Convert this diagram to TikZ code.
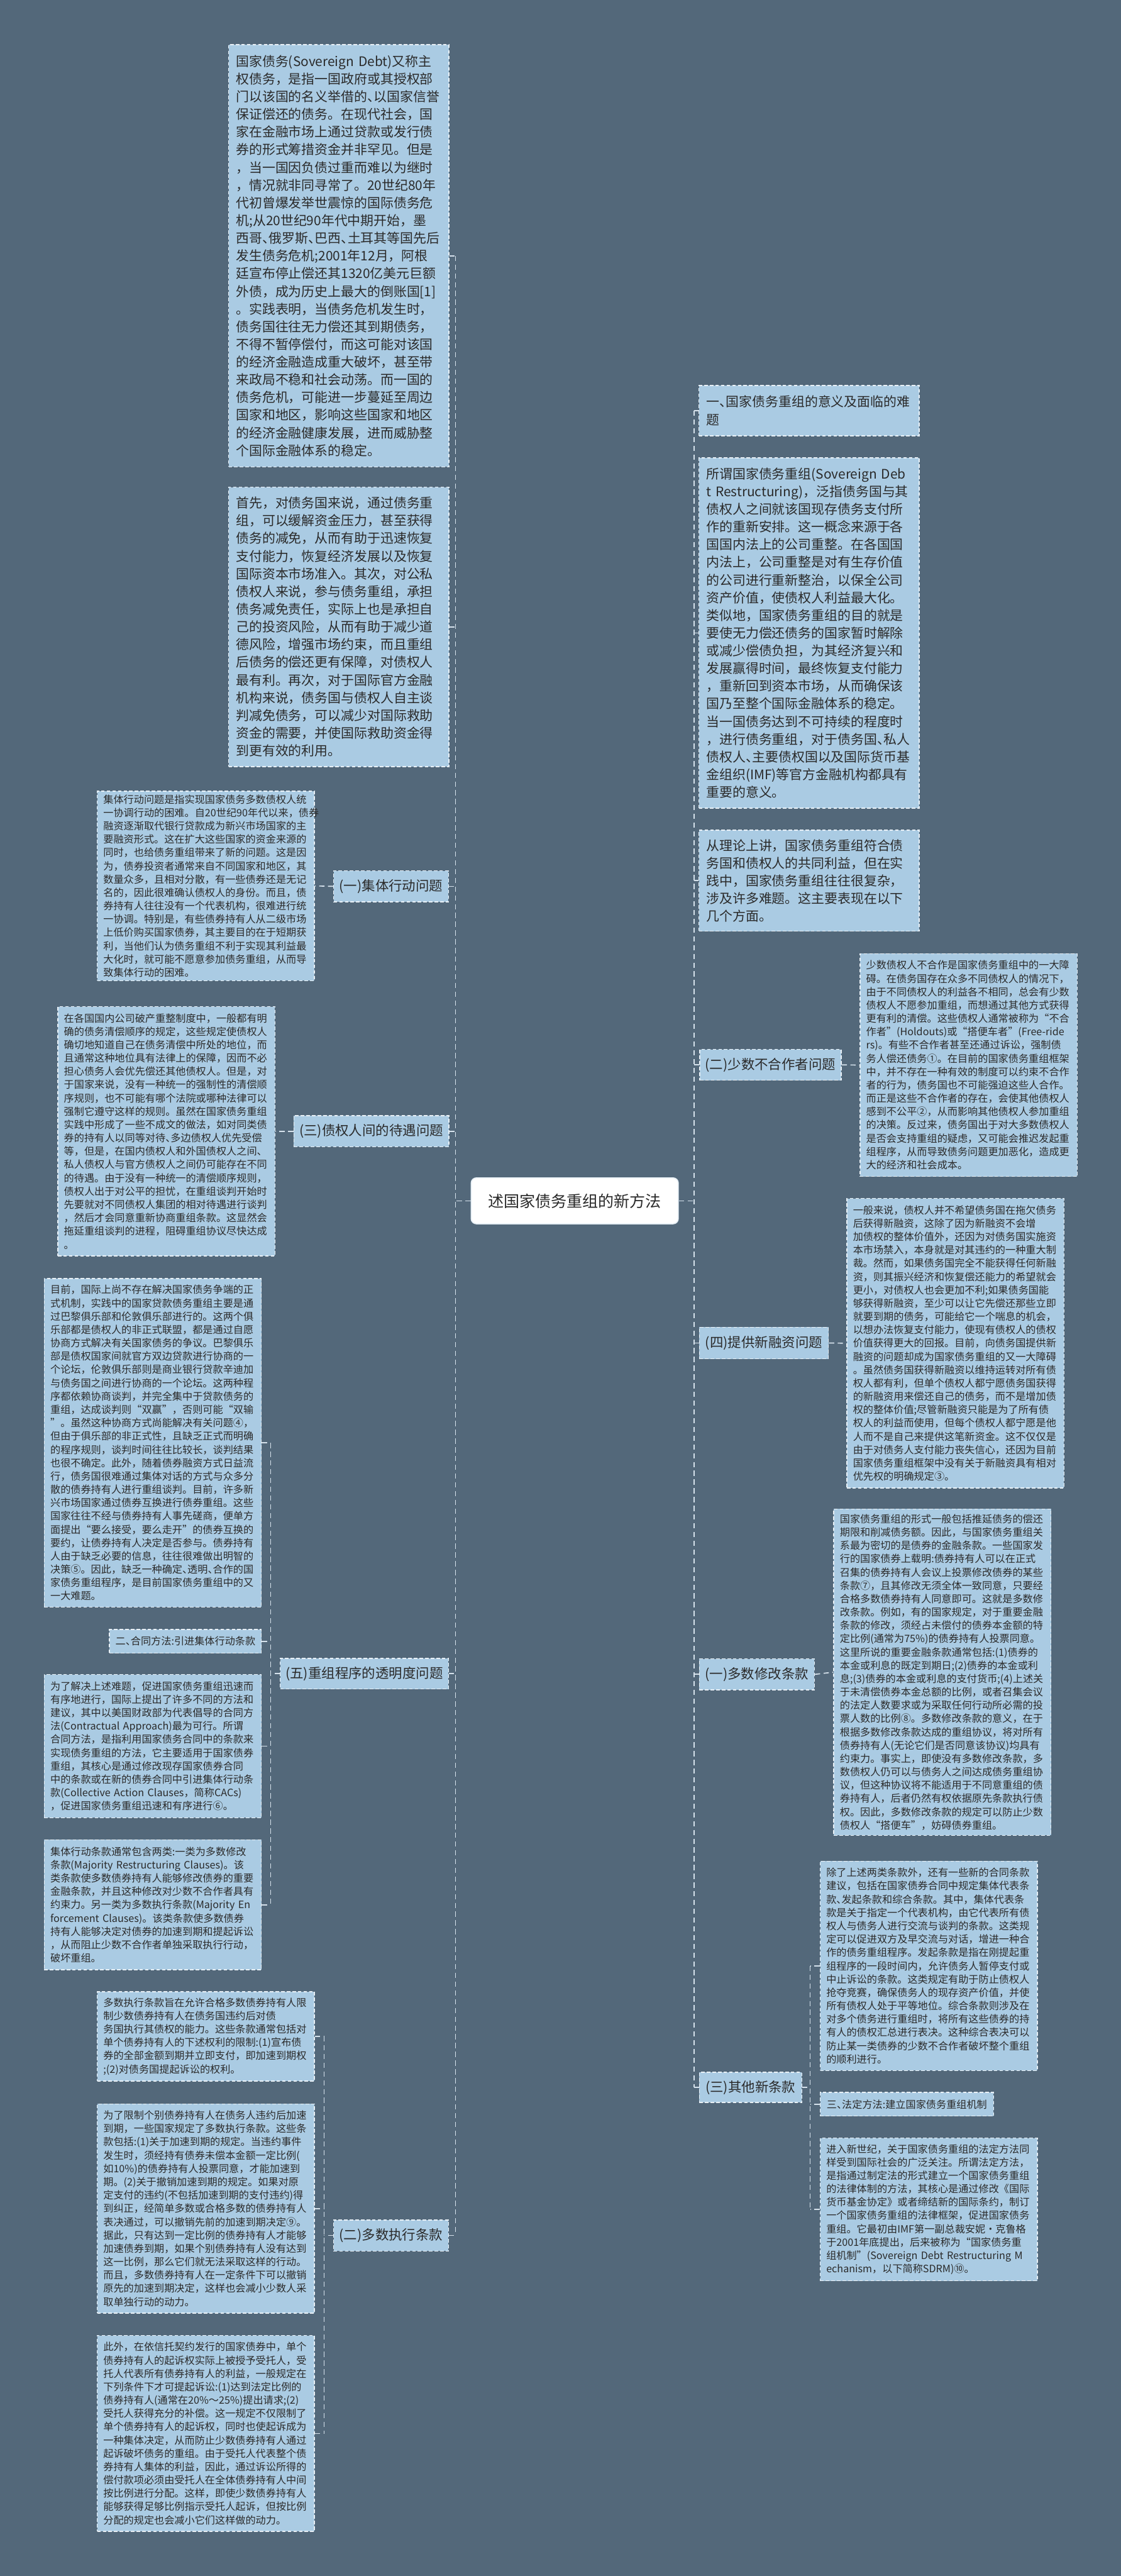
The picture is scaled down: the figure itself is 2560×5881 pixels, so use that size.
\documentclass[tikz,border=0pt]{standalone}
\usepackage{fontspec}
\setmainfont{Noto Sans CJK SC}
\definecolor{bgc}{HTML}{53687A}
\definecolor{boxfill}{HTML}{AACBE3}
\definecolor{boxline}{HTML}{E8F0F6}
\definecolor{txt}{HTML}{2A2A2A}
\definecolor{connc}{HTML}{D6E2EC}
\newcommand\dun{\makebox[0.5em][l]{、}}
\begin{document}
\begin{tikzpicture}[x=0.25pt,y=-0.25pt,
  box/.style={draw=boxline, fill=boxfill, dash pattern=on 2pt off 1.2pt, line width=0.5pt, text=txt, align=left, anchor=north west, inner ysep=0pt},
  bigbox/.style={box, inner xsep=4.25pt, text width=117.25pt, font=\fontsize{7.5pt}{10.1pt}\selectfont},
  smallbox/.style={box, inner xsep=3.5pt, text width=117pt, font=\fontsize{5.8pt}{7.6pt}\selectfont},
  lab/.style={draw=boxline, fill=boxfill, dash pattern=on 2pt off 1.2pt, line width=0.5pt, text=txt, align=center, anchor=north west, inner sep=0pt, font=\fontsize{7.7pt}{9pt}\selectfont},
  slab/.style={lab, font=\fontsize{5.8pt}{7pt}\selectfont},
  rootbox/.style={draw=boxline, fill=white, rounded corners=3pt, line width=0.6pt, text=txt, align=center, inner sep=0pt, font=\fontsize{9pt}{10pt}\selectfont},
  conn/.style={draw=connc, dash pattern=on 3pt off 2pt, line width=0.6pt}
]
\fill[bgc] (0,0) rectangle (2560,5881);
\useasboundingbox (0,0) rectangle (2560,5881);

% root
\node[rootbox, minimum width=118.25pt, minimum height=26.25pt] (root) at (1312.5,2741.5) {述国家债务重组的新方法};

% ---------------- left side ----------------
\node[bigbox, minimum height=241pt] (A) at (521,101) {国家债务(Sovereign~Debt)又称主\\
权债务，是指一国政府或其授权部\\
门以该国的名义举借的\dun 以国家信誉\\
保证偿还的债务。在现代社会，国\\
家在金融市场上通过贷款或发行债\\
券的形式筹措资金并非罕见。但是\\
，当一国因负债过重而难以为继时\\
，情况就非同寻常了。20世纪80年\\
代初曾爆发举世震惊的国际债务危\\
机;从20世纪90年代中期开始，墨\\
西哥\dun 俄罗斯\dun 巴西\dun 土耳其等国先后\\
发生债务危机;2001年12月，阿根\\
廷宣布停止偿还其1320亿美元巨额\\
外债，成为历史上最大的倒账国[1]\\
。实践表明，当债务危机发生时，\\
债务国往往无力偿还其到期债务，\\
不得不暂停偿付，而这可能对该国\\
的经济金融造成重大破坏，甚至带\\
来政局不稳和社会动荡。而一国的\\
债务危机，可能进一步蔓延至周边\\
国家和地区，影响这些国家和地区\\
的经济金融健康发展，进而威胁整\\
个国际金融体系的稳定。};

\node[bigbox, minimum height=159.5pt] (B) at (521,1111) {首先，对债务国来说，通过债务重\\
组，可以缓解资金压力，甚至获得\\
债务的减免，从而有助于迅速恢复\\
支付能力，恢复经济发展以及恢复\\
国际资本市场准入。其次，对公私\\
债权人来说，参与债务重组，承担\\
债务减免责任，实际上也是承担自\\
己的投资风险，从而有助于减少道\\
德风险，增强市场约束，而且重组\\
后债务的偿还更有保障，对债权人\\
最有利。再次，对于国际官方金融\\
机构来说，债务国与债权人自主谈\\
判减免债务，可以减少对国际救助\\
资金的需要，并使国际救助资金得\\
到更有效的利用。};

\node[lab, minimum width=65.5pt, minimum height=17.75pt] (L1c) at (761,1987) {(一)集体行动问题};
\node[smallbox, minimum height=108.25pt] (C) at (221,1805) {集体行动问题是指实现国家债务多数债权人统\\
一协调行动的困难。自20世纪90年代以来，债券\\
融资逐渐取代银行贷款成为新兴市场国家的主\\
要融资形式。这在扩大这些国家的资金来源的\\
同时，也给债务重组带来了新的问题。这是因\\
为，债券投资者通常来自不同国家和地区，其\\
数量众多，且相对分散，有一些债券还是无记\\
名的，因此很难确认债权人的身份。而且，债\\
券持有人往往没有一个代表机构，很难进行统\\
一协调。特别是，有些债券持有人从二级市场\\
上低价购买国家债券，其主要目的在于短期获\\
利，当他们认为债务重组不利于实现其利益最\\
大化时，就可能不愿意参加债务重组，从而导\\
致集体行动的困难。};

\node[lab, minimum width=88.5pt, minimum height=17.75pt] (LD) at (670,2546) {(三)债权人间的待遇问题};
\node[smallbox, minimum height=142.25pt] (D) at (131,2297) {在各国国内公司破产重整制度中，一般都有明\\
确的债务清偿顺序的规定，这些规定使债权人\\
确切地知道自己在债务清偿中所处的地位，而\\
且通常这种地位具有法律上的保障，因而不必\\
担心债务人会优先偿还其他债权人。但是，对\\
于国家来说，没有一种统一的强制性的清偿顺\\
序规则，也不可能有哪个法院或哪种法律可以\\
强制它遵守这样的规则。虽然在国家债务重组\\
实践中形成了一些不成文的做法，如对同类债\\
券的持有人以同等对待\dun 多边债权人优先受偿\\
等，但是，在国内债权人和外国债权人之间\dun\\
私人债权人与官方债权人之间仍可能存在不同\\
的待遇。由于没有一种统一的清偿顺序规则，\\
债权人出于对公平的担忧，在重组谈判开始时\\
先要就对不同债权人集团的相对待遇进行谈判\\
，然后才会同意重新协商重组条款。这显然会\\
拖延重组谈判的进程，阻碍重组协议尽快达成\\
。};

\node[lab, minimum width=96pt, minimum height=17.5pt] (L5) at (639,3785) {(五)重组程序的透明度问题};
\node[smallbox, minimum height=187.5pt] (E) at (100,2918) {目前，国际上尚不存在解决国家债务争端的正\\
式机制，实践中的国家贷款债务重组主要是通\\
过巴黎俱乐部和伦敦俱乐部进行的。这两个俱\\
乐部都是债权人的非正式联盟，都是通过自愿\\
协商方式解决有关国家债务的争议。巴黎俱乐\\
部是债权国家间就官方双边贷款进行协商的一\\
个论坛，伦敦俱乐部则是商业银行贷款辛迪加\\
与债务国之间进行协商的一个论坛。这两种程\\
序都依赖协商谈判，并完全集中于贷款债务的\\
重组，达成谈判则“双赢”，否则可能“双输\\
”。虽然这种协商方式尚能解决有关问题④，\\
但由于俱乐部的非正式性，且缺乏正式而明确\\
的程序规则，谈判时间往往比较长，谈判结果\\
也很不确定。此外，随着债券融资方式日益流\\
行，债务国很难通过集体对话的方式与众多分\\
散的债券持有人进行重组谈判。目前，许多新\\
兴市场国家通过债券互换进行债券重组。这些\\
国家往往不经与债券持有人事先磋商，便单方\\
面提出“要么接受，要么走开”的债券互换的\\
要约，让债券持有人决定是否参与。债券持有\\
人由于缺乏必要的信息，往往很难做出明智的\\
决策⑤。因此，缺乏一种确定\dun 透明\dun 合作的国\\
家债务重组程序，是目前国家债务重组中的又\\
一大难题。};
\node[slab, minimum width=86.75pt, minimum height=13.5pt] (S2) at (249,3719) {二\dun 合同方法:引进集体行动条款};
\node[smallbox, minimum height=81.75pt] (G) at (100,3822) {为了解决上述难题，促进国家债务重组迅速而\\
有序地进行，国际上提出了许多不同的方法和\\
建议，其中以美国财政部为代表倡导的合同方\\
法(Contractual~Approach)最为可行。所谓\\
合同方法，是指利用国家债务合同中的条款来\\
实现债务重组的方法，它主要适用于国家债券\\
重组，其核心是通过修改现存国家债券合同\\
中的条款或在新的债券合同中引进集体行动条\\
款(Collective~Action~Clauses，简称CACs)\\
，促进国家债务重组迅速和有序进行⑥。};
\node[smallbox, minimum height=74.25pt] (H) at (100,4199) {集体行动条款通常包含两类:一类为多数修改\\
条款(Majority~Restructuring~Clauses)。该\\
类条款使多数债券持有人能够修改债券的重要\\
金融条款，并且这种修改对少数不合作者具有\\
约束力。另一类为多数执行条款(Majority~En\\
forcement~Clauses)。该类条款使多数债券\\
持有人能够决定对债券的加速到期和提起诉讼\\
，从而阻止少数不合作者单独采取执行行动，\\
破坏重组。};

\node[lab, minimum width=65.5pt, minimum height=17.75pt] (L2m) at (761,5067) {(二)多数执行条款};
\node[smallbox, minimum height=51pt] (F1) at (221,4546) {多数执行条款旨在允许合格多数债券持有人限\\
制少数债券持有人在债务国违约后对债\\
务国执行其债权的能力。这些条款通常包括对\\
单个债券持有人的下述权利的限制:(1)宣布债\\
券的全部金额到期并立即支付，即加速到期权\\
;(2)对债务国提起诉讼的权利。};
\node[smallbox, minimum height=119.5pt] (F2) at (221,4802) {为了限制个别债券持有人在债务人违约后加速\\
到期，一些国家规定了多数执行条款。这些条\\
款包括:(1)关于加速到期的规定。当违约事件\\
发生时，须经持有债券未偿本金额一定比例(\\
如10\%)的债券持有人投票同意，才能加速到\\
期。(2)关于撤销加速到期的规定。如果对原\\
定支付的违约(不包括加速到期的支付违约)得\\
到纠正，经简单多数或合格多数的债券持有人\\
表决通过，可以撤销先前的加速到期决定⑨。\\
据此，只有达到一定比例的债券持有人才能够\\
加速债券到期，如果个别债券持有人没有达到\\
这一比例，那么它们就无法采取这样的行动。\\
而且，多数债券持有人在一定条件下可以撤销\\
原先的加速到期决定，这样也会减小少数人采\\
取单独行动的动力。};
\node[smallbox, minimum height=111.75pt] (F3) at (221,5331) {此外，在依信托契约发行的国家债券中，单个\\
债券持有人的起诉权实际上被授予受托人，受\\
托人代表所有债券持有人的利益，一般规定在\\
下列条件下才可提起诉讼:(1)达到法定比例的\\
债券持有人(通常在20\%～25\%)提出请求;(2)\\
受托人获得充分的补偿。这一规定不仅限制了\\
单个债券持有人的起诉权，同时也使起诉成为\\
一种集体决定，从而防止少数债券持有人通过\\
起诉破坏债务的重组。由于受托人代表整个债\\
券持有人集体的利益，因此，通过诉讼所得的\\
偿付款项必须由受托人在全体债券持有人中间\\
按比例进行分配。这样，即使少数债券持有人\\
能够获得足够比例指示受托人起诉，但按比例\\
分配的规定也会减小它们这样做的动力。};

% ---------------- right side ----------------
\node[bigbox, minimum height=28.75pt] (L1) at (1595,879) {一\dun 国家债务重组的意义及面临的难\\题};
\node[bigbox, minimum height=200pt] (R1) at (1595,1044) {所谓国家债务重组(Sovereign~Deb\\
t~Restructuring)，泛指债务国与其\\
债权人之间就该国现存债务支付所\\
作的重新安排。这一概念来源于各\\
国国内法上的公司重整。在各国国\\
内法上，公司重整是对有生存价值\\
的公司进行重新整治，以保全公司\\
资产价值，使债权人利益最大化。\\
类似地，国家债务重组的目的就是\\
要使无力偿还债务的国家暂时解除\\
或减少偿债负担，为其经济复兴和\\
发展赢得时间，最终恢复支付能力\\
，重新回到资本市场，从而确保该\\
国乃至整个国际金融体系的稳定。\\
当一国债务达到不可持续的程度时\\
，进行债务重组，对于债务国\dun 私人\\
债权人\dun 主要债权国以及国际货币基\\
金组织(IMF)等官方金融机构都具有\\
重要的意义。};
\node[bigbox, minimum height=57.75pt] (R2) at (1595,1894) {从理论上讲，国家债务重组符合债\\
务国和债权人的共同利益，但在实\\
践中，国家债务重组往往很复杂，\\
涉及许多难题。这主要表现在以下\\
几个方面。};

\node[lab, minimum width=80.75pt, minimum height=17.5pt] (Rl2) at (1597,2395) {(二)少数不合作者问题};
\node[smallbox, minimum height=127.25pt] (R3) at (1963,2176) {少数债权人不合作是国家债务重组中的一大障\\
碍。在债务国存在众多不同债权人的情况下，\\
由于不同债权人的利益各不相同，总会有少数\\
债权人不愿参加重组，而想通过其他方式获得\\
更有利的清偿。这些债权人通常被称为“不合\\
作者”(Holdouts)或“搭便车者”(Free-ride\\
rs)。有些不合作者甚至还通过诉讼，强制债\\
务人偿还债务①。在目前的国家债务重组框架\\
中，并不存在一种有效的制度可以约束不合作\\
者的行为，债务国也不可能强迫这些人合作。\\
而正是这些不合作者的存在，会使其他债权人\\
感到不公平②，从而影响其他债权人参加重组\\
的决策。反过来，债务国出于对大多数债权人\\
是否会支持重组的疑虑，又可能会推迟发起重\\
组程序，从而导致债务问题更加恶化，造成更\\
大的经济和社会成本。};

\node[lab, minimum width=73.75pt, minimum height=18pt] (Rl4) at (1596,3029) {(四)提供新融资问题};
\node[smallbox, minimum height=165.25pt] (R4) at (1933,2735) {一般来说，债权人并不希望债务国在拖欠债务\\
后获得新融资，这除了因为新融资不会增\\
加债权的整体价值外，还因为对债务国实施资\\
本市场禁入，本身就是对其违约的一种重大制\\
裁。然而，如果债务国完全不能获得任何新融\\
资，则其振兴经济和恢复偿还能力的希望就会\\
更小，对债权人也会更加不利;如果债务国能\\
够获得新融资，至少可以让它先偿还那些立即\\
就要到期的债务，可能给它一个喘息的机会，\\
以想办法恢复支付能力，使现有债权人的债权\\
价值获得更大的回报。目前，向债务国提供新\\
融资的问题却成为国家债务重组的又一大障碍\\
。虽然债务国获得新融资以维持运转对所有债\\
权人都有利，但单个债权人都宁愿债务国获得\\
的新融资用来偿还自己的债务，而不是增加债\\
权的整体价值;尽管新融资只能是为了所有债\\
权人的利益而使用，但每个债权人都宁愿是他\\
人而不是自己来提供这笔新资金。这不仅仅是\\
由于对债务人支付能力丧失信心，还因为目前\\
国家债务重组框架中没有关于新融资具有相对\\
优先权的明确规定③。};

\node[lab, minimum width=65.75pt, minimum height=17.75pt] (Rl1) at (1596,3786) {(一)多数修改条款};
\node[smallbox, minimum height=186.25pt] (R5) at (1903,3444) {国家债务重组的形式一般包括推延债务的偿还\\
期限和削减债务额。因此，与国家债务重组关\\
系最为密切的是债券的金融条款。一些国家发\\
行的国家债券上载明:债券持有人可以在正式\\
召集的债券持有人会议上投票修改债券的某些\\
条款⑦，且其修改无须全体一致同意，只要经\\
合格多数债券持有人同意即可。这就是多数修\\
改条款。例如，有的国家规定，对于重要金融\\
条款的修改，须经占未偿付的债券本金额的特\\
定比例(通常为75\%)的债券持有人投票同意。\\
这里所说的重要金融条款通常包括:(1)债券的\\
本金或利息的既定到期日;(2)债券的本金或利\\
息;(3)债券的本金或利息的支付货币;(4)上述关\\
于未清偿债券本金总额的比例，或者召集会议\\
的法定人数要求或为采取任何行动所必需的投\\
票人数的比例⑧。多数修改条款的意义，在于\\
根据多数修改条款达成的重组协议，将对所有\\
债券持有人(无论它们是否同意该协议)均具有\\
约束力。事实上，即使没有多数修改条款，多\\
数债权人仍可以与债务人之间达成债务重组协\\
议，但这种协议将不能适用于不同意重组的债\\
券持有人，后者仍然有权依据原先条款执行债\\
权。因此，多数修改条款的规定可以防止少数\\
债权人“搭便车”，妨碍债券重组。};

\node[lab, minimum width=58.5pt, minimum height=17.25pt] (Rl3) at (1596,4730) {(三)其他新条款};
\node[smallbox, minimum height=119.5pt] (R6) at (1872,4248) {除了上述两类条款外，还有一些新的合同条款\\
建议，包括在国家债券合同中规定集体代表条\\
款\dun 发起条款和综合条款。其中，集体代表条\\
款是关于指定一个代表机构，由它代表所有债\\
权人与债务人进行交流与谈判的条款。这类规\\
定可以促进双方及早交流与对话，增进一种合\\
作的债务重组程序。发起条款是指在刚提起重\\
组程序的一段时间内，允许债务人暂停支付或\\
中止诉讼的条款。这类规定有助于防止债权人\\
抢夺竞赛，确保债务人的现存资产价值，并使\\
所有债权人处于平等地位。综合条款则涉及在\\
对多个债务进行重组时，将所有这些债券的持\\
有人的债权汇总进行表决。这种综合表决可以\\
防止某一类债券的少数不合作者破坏整个重组\\
的顺利进行。};
\node[slab, minimum width=99pt, minimum height=13.5pt] (S3) at (1872,4776) {三\dun 法定方法:建立国家债务重组机制};
\node[smallbox, minimum height=81.5pt] (R7) at (1872,4880) {进入新世纪，关于国家债务重组的法定方法同\\
样受到国际社会的广泛关注。所谓法定方法，\\
是指通过制定法的形式建立一个国家债务重组\\
的法律体制的方法，其核心是通过修改《国际\\
货币基金协定》或者缔结新的国际条约，制订\\
一个国家债务重组的法律框架，促进国家债务\\
重组。它最初由IMF第一副总裁安妮·克鲁格\\
于2001年底提出，后来被称为“国家债务重\\
组机制”(Sovereign~Debt~Restructuring~M\\
echanism，以下简称SDRM)⑩。};

% ---------------- connectors ----------------
\coordinate (ls) at (1040,0);
\coordinate (rs) at (1585,0);
\coordinate (b5) at (618,0);
\coordinate (b2) at (740,0);
\coordinate (b3) at (1850,0);

\draw[conn] (root.west) -- (root.west -| ls);
\draw[conn] (A.east -| ls) -- (L2m.east -| ls);
\foreach \n in {A,B,L1c,LD,L5,L2m} {\draw[conn] (\n.east) -- (\n.east -| ls);}
\draw[conn] (root.east) -- (root.east -| rs);
\draw[conn] (L1.west -| rs) -- (Rl3.west -| rs);
\foreach \n in {L1,R1,R2,Rl2,Rl4,Rl1,Rl3} {\draw[conn] (\n.west) -- (\n.west -| rs);}

\draw[conn] (L1c.west) -- (C.east);
\draw[conn] (LD.west) -- (D.east);
\draw[conn] (E.east -| b5) -- (H.east -| b5);
\foreach \n in {E,S2,G,H} {\draw[conn] (\n.east) -- (\n.east -| b5);}
\draw[conn] (L5.west) -- (L5.west -| b5);
\draw[conn] (F1.east -| b2) -- (F3.east -| b2);
\foreach \n in {F1,F2,F3} {\draw[conn] (\n.east) -- (\n.east -| b2);}
\draw[conn] (L2m.west) -- (L2m.west -| b2);

\draw[conn] (Rl2.east) -- (R3.west);
\draw[conn] (Rl4.east) -- (R4.west);
\draw[conn] (Rl1.east) -- (R5.west);
\draw[conn] (R6.west -| b3) -- (R7.west -| b3);
\foreach \n in {R6,S3,R7} {\draw[conn] (\n.west) -- (\n.west -| b3);}
\draw[conn] (Rl3.east) -- (Rl3.east -| b3);
\end{tikzpicture}
\end{document}
